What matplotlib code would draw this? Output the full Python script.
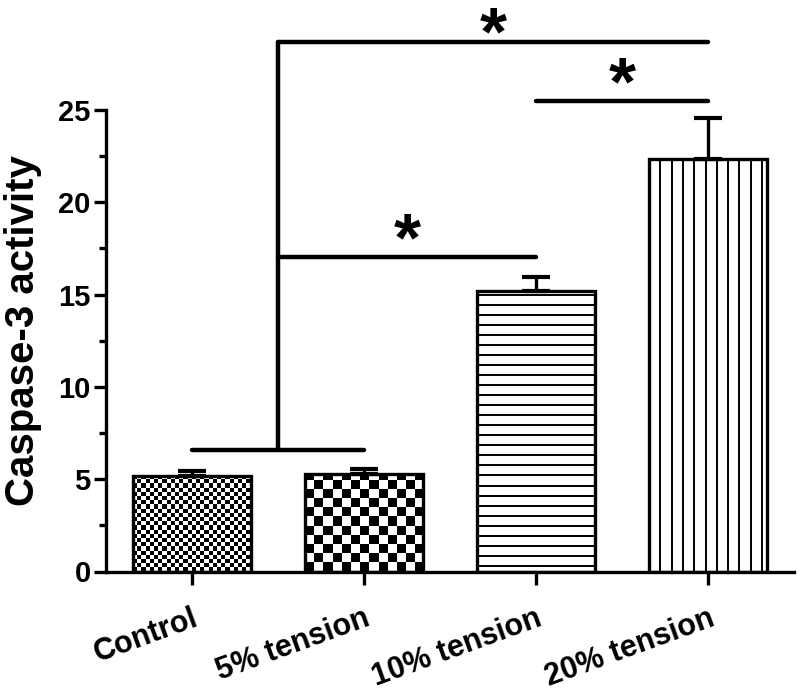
import numpy as np
import matplotlib
matplotlib.use("Agg")
import matplotlib.pyplot as plt
from matplotlib.collections import PatchCollection, LineCollection
from matplotlib.patches import Rectangle

plt.rcParams['font.family'] = ['Liberation Sans', 'DejaVu Sans']
plt.rcParams['font.weight'] = 'bold'

categories = ["Control", "5% tension", "10% tension", "20% tension"]
values = [5.19, 5.30, 15.19, 22.33]
errors = [0.27, 0.25, 0.76, 2.25]
patterns = ["check_fine", "check_coarse", "hlines", "vlines"]
yticks = [0, 5, 10, 15, 20, 25]

# significance brackets: (x_start, x_end, y)
brackets = [(0, 1, 6.6), (0.5, 2.0, 17.05), (2.0, 3.0, 25.5), (0.5, 3.0, 28.7)]
stars = [(1.25, 17.05), (2.5, 25.5), (1.75, 28.7)]
star_offsets = [-13, -13, -19]

DPI = 100
fig = plt.figure(figsize=(8.0, 6.96), dpi=DPI)
ax = fig.add_axes([106/800, (696-571.5)/696, 688/800, (571.5-110)/696])

x = np.arange(len(categories))
ax.set_xlim(-0.5, 3.5)
ax.set_ylim(0, 25)

bars = ax.bar(x, values, width=0.686, facecolor='none', edgecolor='black',
              linewidth=2.4, zorder=3)

# pixel -> data scale
px_x = (ax.transData.transform((1, 0))[0] - ax.transData.transform((0, 0))[0])
px_y = (ax.transData.transform((0, 1))[1] - ax.transData.transform((0, 0))[1])


def add_pattern(bar, kind):
    x0, y0 = bar.get_x(), bar.get_y()
    w, h = bar.get_width(), bar.get_height()
    if kind.startswith("check"):
        c = 4.2 if kind == "check_fine" else 9.2
        cx, cy = c / px_x, c / px_y
        nx = int(np.ceil(w / cx)) + 1
        ny = int(np.ceil(h / cy)) + 1
        rects = []
        for i in range(ny):
            for j in range(nx):
                if (i + j) % 2 == 0:
                    rects.append(Rectangle((x0 + j * cx, y0 + i * cy), cx, cy))
        pc = PatchCollection(rects, facecolor='black', edgecolor='none',
                             zorder=2, antialiased=False)
        ax.add_collection(pc)
        pc.set_clip_path(bar)
    elif kind == "hlines":
        sp = 10.0 / px_y
        ys = np.arange(y0 + sp * 0.6, y0 + h, sp)
        segs = [[(x0, yy), (x0 + w, yy)] for yy in ys]
        lc = LineCollection(segs, colors='black', linewidths=1.4, zorder=2)
        ax.add_collection(lc)
        lc.set_clip_path(bar)
    else:
        sp = 11.3 / px_x
        xs = np.arange(x0 + sp, x0 + w, sp)
        segs = [[(xx, y0), (xx, y0 + h)] for xx in xs]
        lc = LineCollection(segs, colors='black', linewidths=1.4, zorder=2)
        ax.add_collection(lc)
        lc.set_clip_path(bar)


for bar, kind in zip(bars, patterns):
    add_pattern(bar, kind)

ax.errorbar(x, values, yerr=[np.zeros(len(values)), errors], fmt='none',
            ecolor='black', elinewidth=2.4, capsize=10, capthick=3, zorder=2.5)

ax.set_xlim(-0.5, 3.5)
ax.set_ylim(0, 25)

# brackets
for xs, xe, yy in brackets:
    ax.plot([xs, xe], [yy, yy], color='black', lw=3.2, solid_capstyle='round',
            clip_on=False, zorder=4)
ax.plot([0.5, 0.5], [6.6, 28.7], color='black', lw=3.2, solid_capstyle='round',
        clip_on=False, zorder=4)
for (sx, sy), off in zip(stars, star_offsets):
    ax.annotate("*", xy=(sx, sy), xytext=(0, off), textcoords='offset points',
                ha='center', va='bottom', fontsize=50, fontweight='bold',
                annotation_clip=False)

# spines
for s in ['top', 'right']:
    ax.spines[s].set_visible(False)
for s in ['left', 'bottom']:
    ax.spines[s].set_linewidth(2.4)

ax.set_yticks(yticks)
ax.set_yticks(np.arange(2.5, 25, 5), minor=True)
ax.set_yticklabels([str(t) for t in yticks], fontsize=21, fontweight='bold')
ax.tick_params(axis='y', which='major', length=9, width=2.4, direction='out', pad=2)
ax.tick_params(axis='y', which='minor', length=5, width=2.4, direction='out')

ax.set_xticks(x)
ax.set_xticklabels(categories, fontsize=22, fontweight='bold', rotation=20,
                   ha='right', rotation_mode='anchor')
ax.tick_params(axis='x', which='major', length=9, width=2.4, direction='out', pad=14)

ax.set_ylabel("Caspase-3 activity", fontsize=29, fontweight='bold')
ax.yaxis.set_label_coords(-0.093, 0.521)

fig.savefig("out.png", dpi=DPI)
